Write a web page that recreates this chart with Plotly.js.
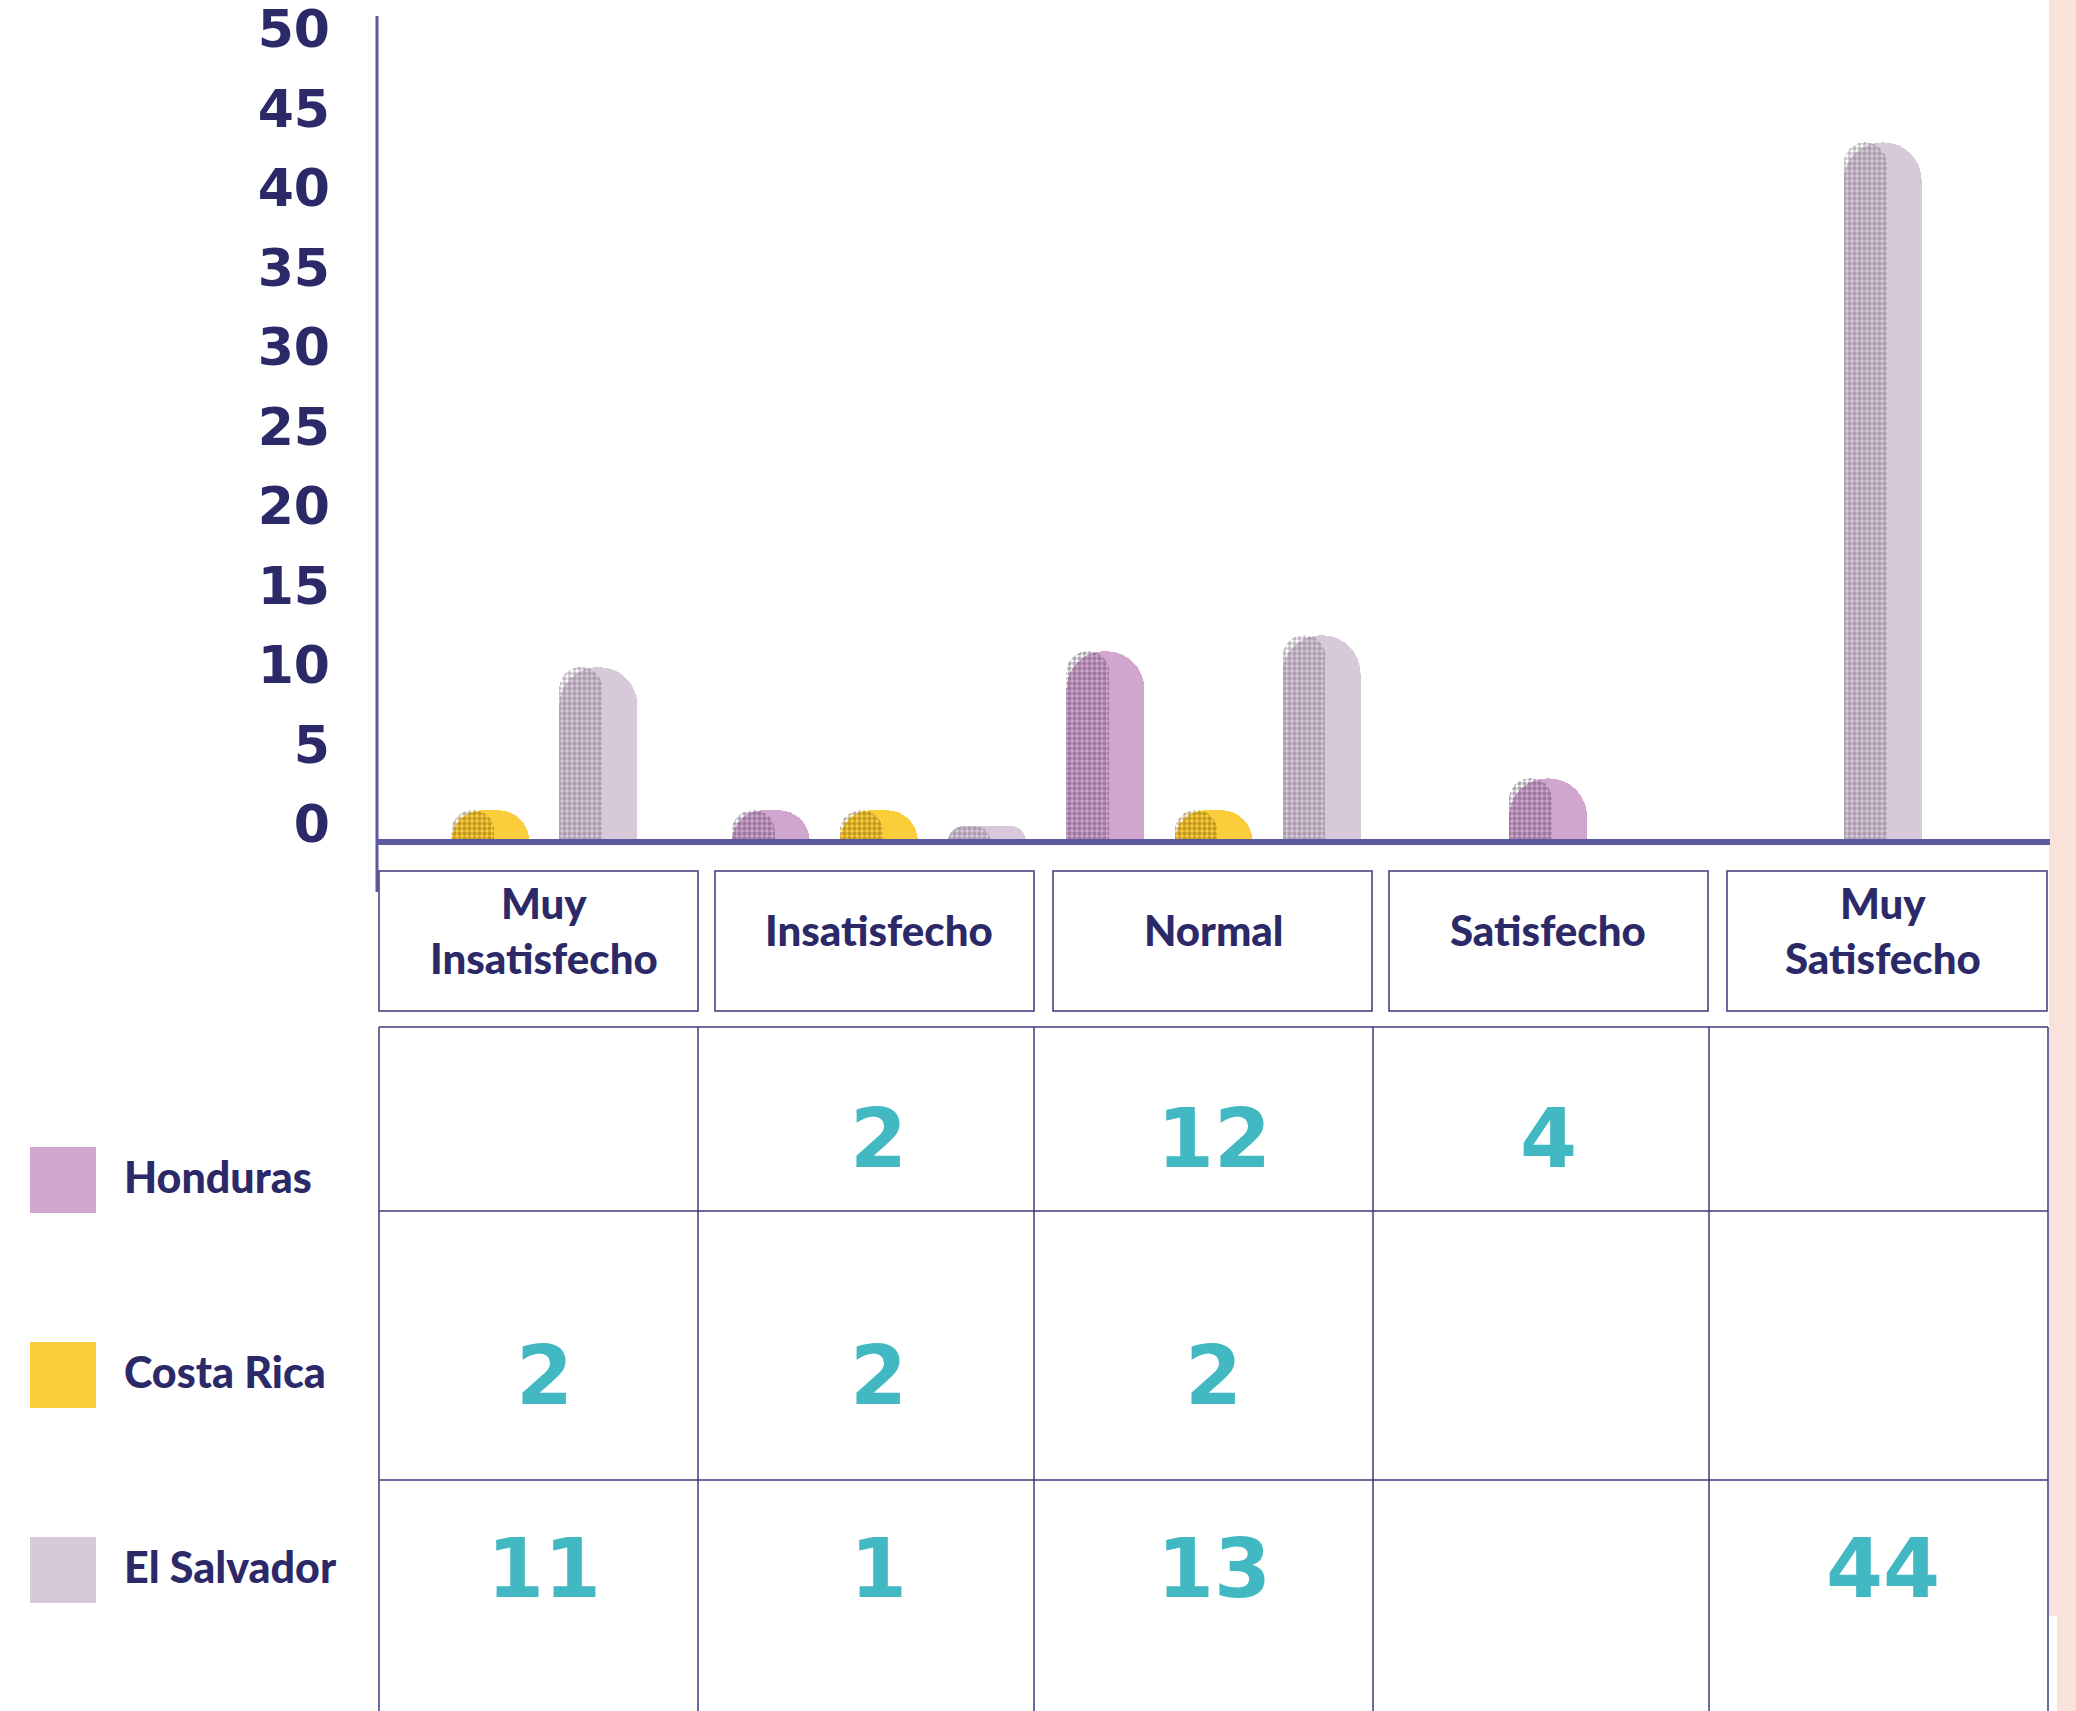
<!DOCTYPE html>
<html><head><meta charset="utf-8">
<script src="https://cdn.plot.ly/plotly-3.0.1.min.js"></script>
<style>html,body{margin:0;padding:0;background:#fff}#chart{width:2076px;height:1711px}</style>
</head><body><div id="chart"></div>
<script>
// ---- data ----
const categories = ["Muy<br>Insatisfecho", "Insatisfecho", "Normal", "Satisfecho", "Muy<br>Satisfecho"];
const seriesNames = ["Honduras", "Costa Rica", "El Salvador"];
const honduras   = [null, 2, 12, 4, null];
const costaRica  = [2, 2, 2, null, null];
const elSalvador = [11, 1, 13, null, 44];
const yTickVals  = [0, 5, 10, 15, 20, 25, 30, 35, 40, 45, 50];

// ---- styles ----
const seriesColors = ["#d0a6cf", "#fccd3a", "#d8c9da"];
const stippleColors = ["#6a4d6b", "#86660c", "#7f7483"];
const NAVY = "#2b2968", AXIS = "#5e5b9c", GRID = "#3d3a7c", TEAL = "#42b9c2";
const BOLDNARROW = "'Lato', 'Liberation Sans', sans-serif";
const WIDE = "'DejaVu Sans', sans-serif";

// ---- pixel layout helpers ----
const W = 2076, H = 1711;
const L = 377, R = 2050, T = 16, B = 842;
const PX = x => (x - L) / (R - L);
const PY = y => (B - y) / (B - T);
const PXPERUNIT = 15.9;
const yMax = (B - T) / PXPERUNIT;

const allSeries = [honduras, costaRica, elSalvador];
const BAR_W = 0.233, SLOT = 0.323;

const traces = [];
allSeries.forEach((vals, s) => {
  const xs = [], ys = [], offs = [];
  vals.forEach((v, i) => {
    if (v === null) return;
    const present = allSeries.map((a, k) => a[i] !== null ? k : -1).filter(k => k >= 0);
    const n = present.length, k = present.indexOf(s);
    const center = (k - (n - 1) / 2) * SLOT;
    xs.push(i); ys.push(v); offs.push(center - BAR_W / 2);
  });
  traces.push({
    type: 'bar', name: seriesNames[s], x: xs, y: ys,
    offset: offs, width: xs.map(() => BAR_W),
    marker: {color: seriesColors[s], line: {width: 0}, cornerradius: '50%'},
    showlegend: false, hoverinfo: 'skip'
  });
  traces.push({
    type: 'bar', name: seriesNames[s] + ' texture', x: xs, y: ys,
    offset: offs, width: xs.map(() => BAR_W * 0.55),
    marker: {color: 'rgba(0,0,0,0)', line: {width: 0}, cornerradius: '50%',
      pattern: {shape: '.', fgcolor: stippleColors[s], bgcolor: 'rgba(0,0,0,0)', size: 5, solidity: 0.6, fillmode: 'overlay'}},
    showlegend: false, hoverinfo: 'skip'
  });
});

const shapes = [];
// peach strip at right edge
shapes.push({type: 'rect', xref: 'paper', yref: 'paper', x0: PX(2049), x1: PX(2076), y0: PY(0), y1: PY(1711), fillcolor: '#f8e3da', line: {width: 0}, layer: 'below'});
shapes.push({type: 'rect', xref: 'paper', yref: 'paper', x0: PX(2049), x1: PX(2057), y0: PY(1616), y1: PY(1711), fillcolor: '#ffffff', line: {width: 0}, layer: 'below'});
// axis lines
shapes.push({type: 'line', xref: 'paper', yref: 'paper', x0: PX(377), x1: PX(377), y0: PY(16), y1: PY(892), line: {color: AXIS, width: 3}, layer: 'above'});
shapes.push({type: 'line', xref: 'paper', yref: 'paper', x0: PX(377), x1: PX(2050), y0: PY(842), y1: PY(842), line: {color: AXIS, width: 6}, layer: 'above'});
// category label boxes
const boxX = [[379, 698], [715, 1034], [1053, 1372], [1389, 1708], [1727, 2047]];
boxX.forEach(b => shapes.push({type: 'rect', xref: 'paper', yref: 'paper', x0: PX(b[0]), x1: PX(b[1]), y0: PY(871), y1: PY(1011), line: {color: GRID, width: 1.5}, fillcolor: 'rgba(0,0,0,0)'}));
// value table grid
const colX = [379, 698, 1034, 1373, 1709, 2048];
const rowY = [1027, 1211, 1480];
rowY.forEach(y => shapes.push({type: 'line', xref: 'paper', yref: 'paper', x0: PX(379), x1: PX(2048), y0: PY(y), y1: PY(y), line: {color: GRID, width: 1.5}}));
colX.forEach(x => shapes.push({type: 'line', xref: 'paper', yref: 'paper', x0: PX(x), x1: PX(x), y0: PY(1027), y1: PY(1711), line: {color: GRID, width: 1.5}}));
// legend swatches
const legendY = [[1147, 1213], [1342, 1408], [1537, 1603]];
legendY.forEach((r, s) => shapes.push({type: 'rect', xref: 'paper', yref: 'paper', x0: PX(30), x1: PX(96), y0: PY(r[0]), y1: PY(r[1]), fillcolor: seriesColors[s], line: {width: 0}}));

const annotations = [];
categories.forEach((c, i) => annotations.push({
  text: c, x: i, xref: 'x', y: PY(930), yref: 'paper', xanchor: 'center', yanchor: 'middle',
  showarrow: false, font: {family: BOLDNARROW, size: 42, color: NAVY, weight: 900}
}));
seriesNames.forEach((n, s) => annotations.push({
  text: n, x: PX(122), xref: 'paper', y: PY((legendY[s][0] + legendY[s][1]) / 2 - 4), yref: 'paper',
  xanchor: 'left', yanchor: 'middle', showarrow: false,
  font: {family: BOLDNARROW, size: 43, color: NAVY, weight: 900}
}));
const valueRowY = [1138, 1375, 1568];
allSeries.forEach((vals, s) => vals.forEach((v, i) => {
  if (v === null) return;
  annotations.push({
    text: String(v), x: i, xref: 'x', y: PY(valueRowY[s]), yref: 'paper',
    xanchor: 'center', yanchor: 'middle', showarrow: false,
    font: {family: WIDE, size: 82, color: TEAL, weight: 'bold'}
  });
}));

const layout = {
  width: W, height: H,
  margin: {l: L, r: W - R, t: T, b: H - B, pad: 0},
  paper_bgcolor: '#ffffff', plot_bgcolor: 'rgba(0,0,0,0)',
  barmode: 'overlay', bargap: 0,
  xaxis: {type: 'linear', range: [-0.5, 4.5], showticklabels: false, showgrid: false, zeroline: false, showline: false, ticks: '', fixedrange: true},
  yaxis: {range: [0, yMax], tickmode: 'array', tickvals: yTickVals, ticktext: yTickVals.map(String),
    tickfont: {family: WIDE, size: 52, color: NAVY, weight: 'bold'},
    showgrid: false, zeroline: false, showline: false, ticks: '', ticklabelstandoff: 46, ticklabelshift: -18,
    ticklabeloverflow: 'allow', fixedrange: true},
  shapes: shapes, annotations: annotations,
  showlegend: false
};

Plotly.newPlot('chart', traces, layout, {displayModeBar: false, staticPlot: true});
</script>
</body></html>
